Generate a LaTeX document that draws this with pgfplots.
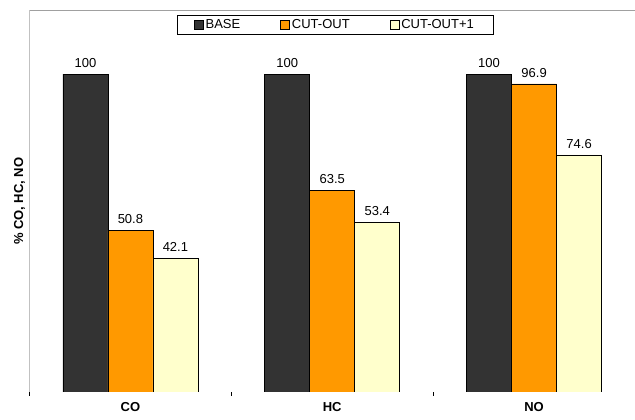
\documentclass[border=0pt]{standalone}
\usepackage{fontspec}
\setmainfont{Liberation Sans}
\usepackage{pgfplots}
\pgfplotsset{compat=1.18}

\definecolor{baseC}{HTML}{333333}
\definecolor{cutC}{HTML}{FF9900}
\definecolor{cutoneC}{HTML}{FFFFCC}
\definecolor{frameC}{HTML}{A0A0A0}

\newcommand{\chartfont}{\fontsize{13}{15}\selectfont}

\begin{document}
\begin{tikzpicture}[x=1pt,y=1pt]
\useasboundingbox (-29.5,-28) rectangle (605.5,392);
\begin{axis}[
  at={(0,0)}, anchor=south west,
  scale only axis, width=605.5pt, height=381.5pt,
  ybar=0pt, bar width=45pt,
  xmin=-0.5, xmax=2.5, ymin=0, ymax=120,
  axis line style={draw=none},
  xtick={0,1,2}, xticklabels={CO,HC,NO},
  xtick pos=bottom,
  xticklabel style={font=\chartfont\bfseries, yshift=-3pt},
  major x tick style={draw=none},
  extra x ticks={-0.5,0.5,1.5},
  extra x tick labels={},
  extra x tick style={tick align=outside, major tick length=4pt,
    major x tick style={draw=black, line width=0.6pt}},
  ytick=\empty,
  ylabel={\% CO, HC, NO},
  ylabel style={font=\chartfont\bfseries, at={(axis description cs:-0.0165,0.5)},
    anchor=center},
  /pgf/number format/assume math mode=true,
  nodes near coords={\pgfmathprintnumber{\pgfplotspointmeta}},
  every node near coord/.append style={font=\chartfont, yshift=3pt},
  legend columns=3,
  legend style={at={(rel axis cs:0.5045,0.988)}, anchor=north,
    draw=black, line width=0.6pt, fill=white, font=\chartfont,
    inner xsep=17pt, inner ysep=2pt,
    nodes={inner xsep=2pt, inner ysep=2pt, anchor=west},
    /tikz/every odd column/.append style={column sep=0pt},
    /tikz/every even column/.append style={column sep=38pt}},
]
\addplot[fill=baseC, draw=black, line width=0.6pt,
  legend image code/.code={\draw[fill=baseC,draw=black,line width=0.6pt] (0pt,-4.5pt) rectangle (9pt,4.5pt);}]
  coordinates {(0,100) (1,100) (2,100)};
\addplot[fill=cutC, draw=black, line width=0.6pt,
  legend image code/.code={\draw[fill=cutC,draw=black,line width=0.6pt] (0pt,-4.5pt) rectangle (9pt,4.5pt);}]
  coordinates {(0,50.8) (1,63.5) (2,96.9)};
\addplot[fill=cutoneC, draw=black, line width=0.6pt,
  legend image code/.code={\draw[fill=cutoneC,draw=black,line width=0.6pt] (0pt,-4.5pt) rectangle (9pt,4.5pt);}]
  coordinates {(0,42.1) (1,53.4) (2,74.6)};
\legend{BASE, CUT-OUT, CUT-OUT+1}
\draw[frameC, line width=0.8pt] (rel axis cs:0,0) -- (rel axis cs:0,1) -- (rel axis cs:1,1);
\draw[black, line width=0.8pt] (rel axis cs:0,0) -- (rel axis cs:1,0);
\end{axis}
\end{tikzpicture}
\end{document}
